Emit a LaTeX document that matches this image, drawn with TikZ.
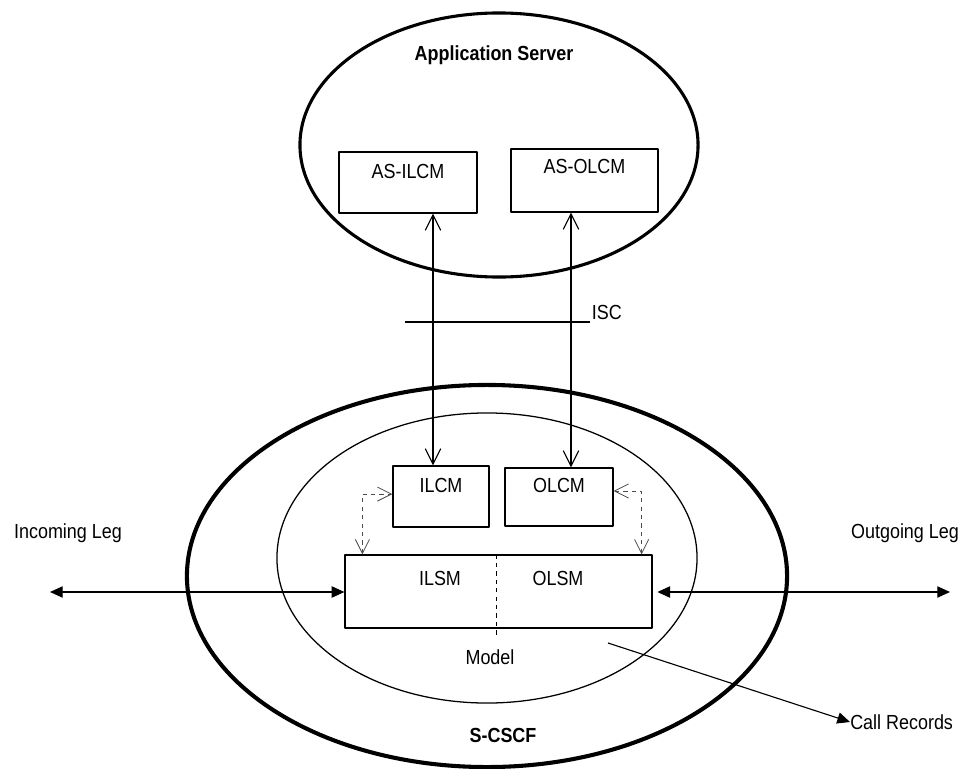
\documentclass[tikz,border=0pt]{standalone}
\usepackage{fontspec}
\setmainfont{Liberation Sans}[FakeStretch=0.88]
\usetikzlibrary{arrows.meta,shapes.geometric,positioning}
\begin{document}
\begin{tikzpicture}[x=0.025cm,y=-0.025cm, line join=round,
    font=\fontsize{14.5}{16}\selectfont,
    box/.style={draw, line width=0.8pt, inner sep=0pt},
    oval/.style={draw, ellipse, inner sep=0pt},
    bold/.style={font=\fontsize{14.5}{16}\selectfont\bfseries},
    isc/.style={line width=0.8pt, {Straight Barb[length=11pt,width=11pt]}-{Straight Barb[length=11pt,width=11pt]}},
    dsh/.style={dashed, black!70, line width=0.6pt, {Straight Barb[length=10pt,width=10pt]}-{Straight Barb[length=10pt,width=10pt]}},
    leg/.style={line width=0.9pt, {Triangle[length=9pt,width=8pt]}-{Triangle[length=9pt,width=8pt]}}]
    \useasboundingbox (0,0) rectangle (962,769);
    % Hüllen
    \node[oval, line width=2.2pt, minimum width=9.95cm, minimum height=6.6cm] (as) at (499,145) {};
    \node[oval, line width=2.9pt, minimum width=15cm, minimum height=9.55cm] (scscf) at (487,576) {};
    \node[oval, line width=0.9pt, minimum width=10.5cm, minimum height=7.25cm] (model) at (487,558) {};
    \node[bold] at (494,55) {Application Server};
    \node[bold] at (503,735) {S-CSCF};
    % Kästen
    \node[box, minimum width=3.45cm, minimum height=1.525cm] (asil) at (408,182.5) {};
    \node[box, minimum width=3.675cm, minimum height=1.575cm] (asol) at (584.5,180.5) {};
    \node[box, minimum width=2.4cm, minimum height=1.525cm] (ilcm) at (441,496.5) {};
    \node[box, minimum width=2.7cm, minimum height=1.45cm] (olcm) at (559,497) {};
    \node[box, minimum width=7.675cm, minimum height=1.825cm] (sm) at (498.5,591.5) {};
    \node at ([yshift=-0.2cm]asil.north) [below]{AS-ILCM};
    \node at ([yshift=-0.15cm]asol.north) [below]{AS-OLCM};
    \node at ([yshift=-0.2cm]ilcm.north) [below]{ILCM};
    \node at ([yshift=-0.15cm]olcm.north) [below]{OLCM};
    \node (ilsm) at (440,578) {ILSM};
    \node (olsm) at (558,578) {OLSM};
    \draw[dashed, line width=0.6pt] ([xshift=-0.06cm]sm.north) -- ([xshift=-0.06cm,yshift=-0.25cm]sm.south);
    \node at (490,657) {Model};
    % ISC
    \draw[isc] ([xshift=0.625cm]asil.south) -- ([xshift=0.625cm]asil.south |- ilcm.north);
    \draw[isc] ([xshift=-0.3375cm]asol.south) -- ([xshift=-0.3375cm]asol.south |- olcm.north);
    \draw[line width=0.8pt] (405,322) -- (590,322) node[right, inner sep=1pt, yshift=0.25cm] (isclbl) {ISC};
    % gestrichelt
    \draw[dsh] ([xshift=0.45cm]sm.north west) |- ([yshift=0.06cm]ilcm.west);
    \draw[dsh] ([yshift=0.15cm]olcm.east) -| ([xshift=-0.275cm]sm.north east);
    % Beine
    \coordinate (inleg) at (50,592);
    \coordinate (outleg) at (950,592);
    \node (inlbl) at (68,533) {Incoming Leg};
    \node (outlbl) at (905,533) {Outgoing Leg};
    \draw[leg] (inleg) -- (sm.west |- inleg);
    \draw[leg, shorten <=0.12cm] (sm.east |- outleg) -- (outleg);
    % Call Records
    \coordinate (crs) at (608,643);
    \node[anchor=west, inner sep=0pt] (cr) at (850,722) {Call Records};
    \draw[line width=0.8pt, -{Triangle[length=9pt,width=8pt]}] (crs) -- (cr.west);
\end{tikzpicture}
\end{document}
